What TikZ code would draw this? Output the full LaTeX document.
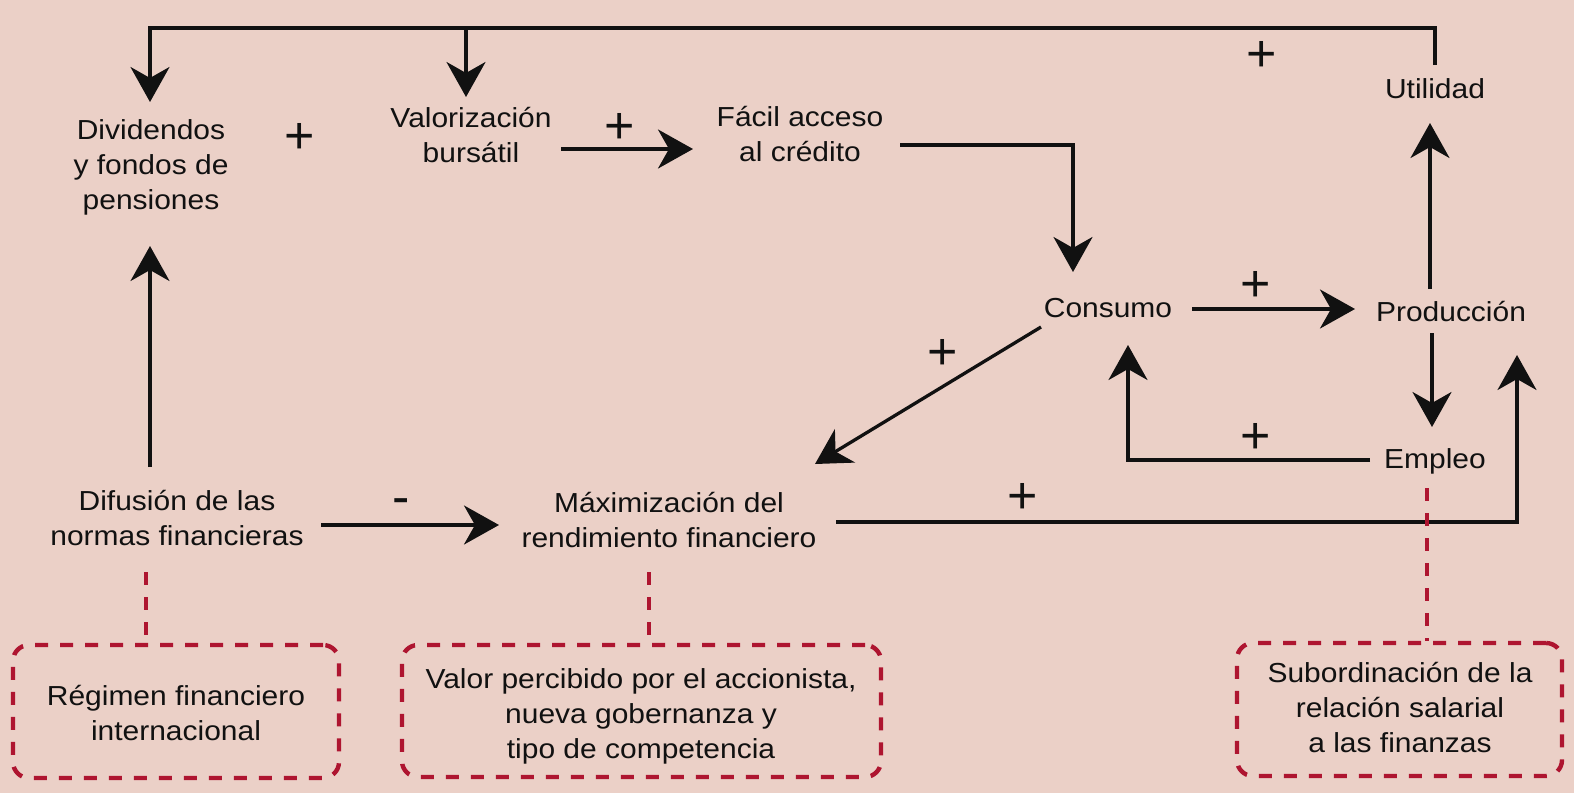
\documentclass[tikz,border=0pt]{standalone}
\usepackage{fontspec}
\setmainfont{Liberation Sans}[FakeStretch=1.09]
\newfontfamily\signfont{Liberation Sans}
\usetikzlibrary{arrows.meta}
\definecolor{bg}{HTML}{EBD0C7}
\definecolor{dred}{HTML}{AE1530}
\definecolor{ink}{HTML}{111111}
\begin{document}
\begin{tikzpicture}[x=1pt,y=-1pt,
  lab/.style={align=center,font=\fontsize{27.5}{35}\selectfont,text=ink,inner sep=0pt},
  sgn/.style={font=\signfont\fontsize{52}{52}\selectfont,text=ink,inner sep=0pt},
  conn/.style={draw=ink,line width=3.3pt},
  arr/.style={conn,-{Stealth[length=35pt,width=39pt,inset=11pt]}},
  dsh/.style={draw=dred,line width=4.4pt,dash pattern=on 13pt off 12pt},
  ebox/.style={dsh,rounded corners=16pt,inner sep=0pt}]
\fill[bg] (0,0) rectangle (1574,793);
\useasboundingbox (0,0) rectangle (1574,793);

% main labels
\node[lab] (divid) at (151,167) {Dividendos\\y fondos de\\pensiones};
\node[lab] (valor) at (471,135) {Valorización\\bursátil};
\node[lab] (facil) at (800,134) {Fácil acceso\\al crédito};
\node[lab] (util) at (1435,89) {Utilidad};
\node[lab] (cons) at (1108,308) {Consumo};
\node[lab] (prod) at (1451,312) {Producción};
\node[lab] (empl) at (1435,461) {Empleo};
\node[lab] (difu) at (177,518) {Difusión de las\\normas financieras};
\node[lab] (maxi) at (669,520) {Máximización del\\rendimiento financiero};

% dashed boxes
\node[ebox,minimum width=326pt,minimum height=133pt] (b1) at (176,711.5) {};
\node[ebox,minimum width=479pt,minimum height=132pt] (b2) at (641.5,711) {};
\node[ebox,minimum width=325pt,minimum height=133pt] (b3) at (1399.5,709.5) {};
\node[lab] (t1) at (176,712.5) {Régimen financiero\\internacional};
\node[lab] (t2) at (641,716) {Valor percibido por el accionista,\\nueva gobernanza y\\tipo de competencia};
\node[lab] (t3) at (1400,707) {Subordinación de la\\relación salarial\\a las finanzas};

% signs
\node[sgn] (p1) at (300,138) {+};
\node[sgn] (p2) at (620,128) {+};
\node[sgn] (p3) at (1262,56) {+};
\node[sgn] (p4) at (1256,286) {+};
\node[sgn] (p5) at (943,354) {+};
\node[sgn] (p6) at (1256,438) {+};
\node[sgn] (p7) at (1023,498) {+};
\node[sgn] (m1) at (401,507) {-};

% connector end points
\coordinate (uTop) at (1435,65);
\coordinate (cR) at (1435,28);
\coordinate (cL) at (150,28);
\coordinate (cM) at (466,28);
\coordinate (dTip) at (150,102);
\coordinate (vTip) at (466,97);
\coordinate (vOut) at (561,149);
\coordinate (fIn) at (693,149);
\coordinate (fOut) at (900,145);
\coordinate (fCorner) at (1073,145);
\coordinate (cTip) at (1073,272);
\coordinate (cOut) at (1192,309);
\coordinate (pIn) at (1355,309);
\coordinate (pUp) at (1430,289);
\coordinate (uTip) at (1430,123);
\coordinate (pDown) at (1432,333);
\coordinate (eTip) at (1432,427);
\coordinate (eOut) at (1370,460);
\coordinate (eCorner) at (1128,460);
\coordinate (cIn) at (1128,345);
\coordinate (cDiag) at (1041,327);
\coordinate (mTip) at (815,464);
\coordinate (dfUp) at (150,467);
\coordinate (dvTip) at (150,246);
\coordinate (dfOut) at (321,525);
\coordinate (mIn) at (499,525);
\coordinate (mOut) at (836,522);
\coordinate (rCorner) at (1517,522);
\coordinate (rTip) at (1517,355);
\coordinate (d1a) at (146,572);
\coordinate (d2a) at (649,572);
\coordinate (d3a) at (1427,488);

% connectors
\draw[arr] (uTop) -- (cR) -- (cL) -- (dTip);
\draw[arr] (cM) -- (vTip);
\draw[arr] (vOut) -- (fIn);
\draw[arr] (fOut) -- (fCorner) -- (cTip);
\draw[arr] (cOut) -- (pIn);
\draw[arr] (pUp) -- (uTip);
\draw[arr] (pDown) -- (eTip);
\draw[arr] (eOut) -- (eCorner) -- (cIn);
\draw[arr] (cDiag) -- (mTip);
\draw[arr] (dfUp) -- (dvTip);
\draw[arr] (dfOut) -- (mIn);
\draw[arr] (mOut) -- (rCorner) -- (rTip);

% dashed links
\draw[dsh] (d1a) -- (b1.north -| d1a);
\draw[dsh] (d2a) -- (b2.north -| d2a);
\draw[dsh] (d3a) -- (b3.north -| d3a);
\end{tikzpicture}
\end{document}
